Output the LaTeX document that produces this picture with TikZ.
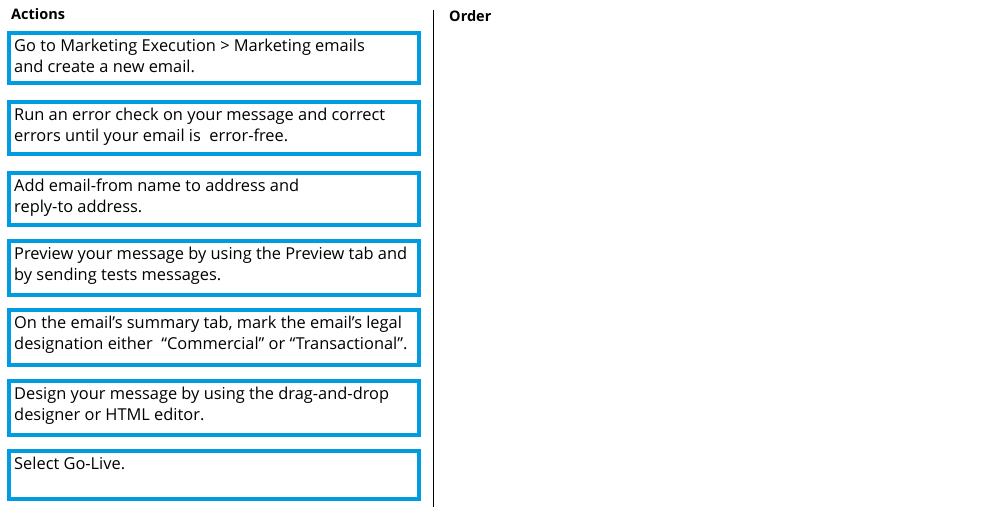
\documentclass[tikz,border=0pt]{standalone}
\usepackage{fontspec}
\setmainfont{Open Sans}
\begin{document}
\begin{tikzpicture}[x=1pt,y=-1pt,
  abox/.style={draw=boxblue,line width=4pt},
  atext/.style={anchor=north west,align=left,font=\fontsize{16.4}{20.5}\selectfont,inner sep=0pt},
  head/.style={anchor=west,font=\fontsize{14.5}{18}\selectfont\bfseries,inner sep=0pt}]
\definecolor{boxblue}{RGB}{0,155,225}
\useasboundingbox (0,0) rectangle (1000,527);
\node[head] (act) at (11,14) {Actions};
\node[head] (ord) at (449,16) {Order};
\draw[line width=1pt] (433,10) coordinate (d1) -- (433,507) coordinate (d2);
\foreach \i/\t/\b/\txt in {
 1/33/83/{Go to Marketing Execution > Marketing emails\\ and create a new email.},
 2/102/154/{Run an error check on your message and correct\\ errors until your email is \ error-free.},
 3/173/225/{Add email-from name to address and\\ reply-to address.},
 4/241/295/{Preview your message by using the Preview tab and\\by sending tests messages.},
 5/310/365/{On the email’s summary tab, mark the email’s legal\\ designation either \ “Commercial” or “Transactional”.},
 6/381/435/{Design your message by using the drag-and-drop\\designer or HTML editor.},
 7/451/499/{Select Go-Live.}}{
 \draw[abox] (9,\t) rectangle (419,\b);
 \node[atext] (t\i) at (14,\t+6) {\txt};
}
\end{tikzpicture}
\end{document}
